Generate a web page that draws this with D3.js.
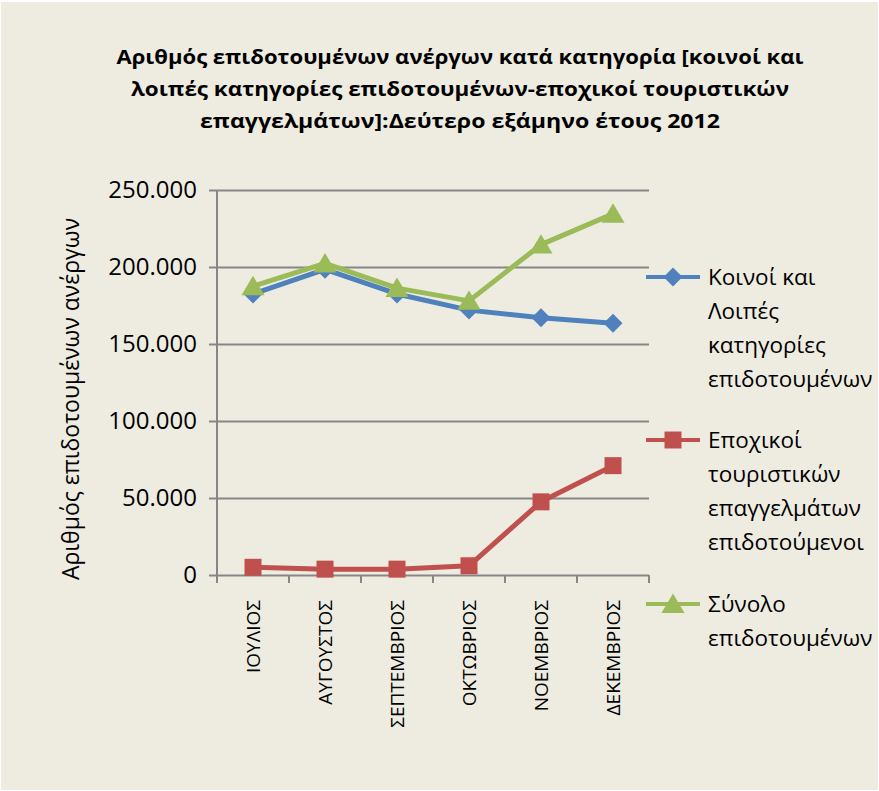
<!DOCTYPE html>
<html>
<head>
<meta charset="utf-8">
<script src="https://cdnjs.cloudflare.com/ajax/libs/d3/7.8.5/d3.min.js"></script>
<style>
  html, body { margin: 0; padding: 0; background: #ffffff; }
  svg { display: block; }
</style>
</head>
<body>
<svg id="chart" width="879" height="791"></svg>
<script>
// ---- data ----
const titleLines = [
  "Αριθμός επιδοτουμένων  ανέργων κατά κατηγορία [κοινοί και",
  "λοιπές κατηγορίες επιδοτουμένων-εποχικοί  τουριστικών",
  "επαγγελμάτων]:Δεύτερο  εξάμηνο έτους  2012"
];
const yAxisTitle = "Αριθμός επιδοτουμένων ανέργων";
const months = ["ΙΟΥΛΙΟΣ", "ΑΥΓΟΥΣΤΟΣ", "ΣΕΠΤΕΜΒΡΙΟΣ", "ΟΚΤΩΒΡΙΟΣ", "ΝΟΕΜΒΡΙΟΣ", "ΔΕΚΕΜΒΡΙΟΣ"];
const koinoi = [182500, 198500, 182500, 172000, 167000, 163500];
const epoxikoi = [5000, 3800, 3800, 6000, 47500, 71000];
const synolo = [187500, 202300, 186300, 178000, 214500, 234500];
const yTicks = [0, 50000, 100000, 150000, 200000, 250000];
const seriesNames = [
  ["Κοινοί και", "Λοιπές", "κατηγορίες", "επιδοτουμένων"],
  ["Εποχικοί", "τουριστικών", "επαγγελμάτων", "επιδοτούμενοι"],
  ["Σύνολο", "επιδοτουμένων"]
];

// ---- setup ----
const svg = d3.select("#chart");
const W = 879, H = 791;
const FONT = "'Open Sans', 'Noto Sans', 'DejaVu Sans', sans-serif";

svg.append("rect").attr("x", 1).attr("y", 2).attr("width", W - 2).attr("height", H - 3)
  .attr("fill", "#EEECE1");

const plot = { left: 217, right: 649, top: 190, bottom: 575 };

const x = d3.scaleBand().domain(months).range([plot.left, plot.right]).padding(0);
const y = d3.scaleLinear().domain([0, 250000]).range([plot.bottom, plot.top]);

const loc = d3.formatLocale({ decimal: ",", thousands: ".", grouping: [3], currency: ["", "€"] });
const fmt = loc.format(",");

// title
const titleWidths = [687, 658, 520];
svg.append("g").selectAll("text").data(titleLines).join("text")
  .attr("x", 460).attr("y", (d, i) => 64 + i * 32)
  .attr("text-anchor", "middle")
  .attr("font-family", FONT).attr("font-weight", "bold").attr("font-size", 20)
  .attr("textLength", (d, i) => titleWidths[i]).attr("lengthAdjust", "spacingAndGlyphs")
  .attr("fill", "#000").text(d => d);

// y axis with gridlines
const yAxis = svg.append("g").attr("transform", `translate(${plot.left},0)`)
  .call(d3.axisLeft(y).tickValues(yTicks).tickFormat(fmt)
    .tickSize(-(plot.right - plot.left)).tickPadding(20));
yAxis.select(".domain").remove();
yAxis.selectAll(".tick line").attr("stroke", "#868686").attr("stroke-width", 2)
  .attr("x1", -8);
yAxis.selectAll(".tick text").attr("font-family", FONT).attr("font-size", 24)
  .attr("fill", "#000").attr("x", -20);

// vertical axis line
svg.append("line").attr("x1", plot.left).attr("x2", plot.left)
  .attr("y1", plot.top).attr("y2", plot.bottom + 8)
  .attr("stroke", "#868686").attr("stroke-width", 2);

// x axis ticks at category boundaries
const bounds = months.map(m => x(m) + x.bandwidth());
svg.append("g").selectAll("line").data(bounds).join("line")
  .attr("x1", d => d).attr("x2", d => d)
  .attr("y1", plot.bottom).attr("y2", plot.bottom + 8)
  .attr("stroke", "#868686").attr("stroke-width", 2);

// x labels rotated
svg.append("g").selectAll("text").data(months).join("text")
  .attr("transform", d => `translate(${x(d) + x.bandwidth() / 2 + 7},${plot.bottom + 25}) rotate(-90)`)
  .attr("text-anchor", "end")
  .attr("font-family", FONT).attr("font-size", 19).attr("fill", "#000")
  .text(d => d);

// y axis title
svg.append("text")
  .attr("transform", `translate(79,${399}) rotate(-90)`)
  .attr("text-anchor", "middle")
  .attr("font-family", FONT).attr("font-size", 23).attr("fill", "#000")
  .text(yAxisTitle);

// markers
function diamond(r) { return `M0,${-r}L${r},0L0,${r}L${-r},0Z`; }
function square(r) { return `M${-r},${-r}H${r}V${r}H${-r}Z`; }
function triangle(r) { return `M0,${-r}L${r * 1.1},${r * 0.85}L${-r * 1.1},${r * 0.85}Z`; }

const series = [
  { values: koinoi, color: "#4F81BD", marker: diamond(9.5) },
  { values: epoxikoi, color: "#C0504D", marker: square(8.5) },
  { values: synolo, color: "#9BBB59", marker: triangle(10.5) }
];

const line = d3.line().x((d, i) => x(months[i]) + x.bandwidth() / 2).y(d => y(d));

series.forEach(s => {
  svg.append("path").datum(s.values).attr("d", line)
    .attr("fill", "none").attr("stroke", s.color).attr("stroke-width", 5)
    .attr("stroke-linejoin", "round");
  svg.append("g").selectAll("path").data(s.values).join("path")
    .attr("transform", (d, i) => `translate(${x(months[i]) + x.bandwidth() / 2},${y(d)})`)
    .attr("d", s.marker).attr("fill", s.color);
});

// legend
const legendY = [277, 440, 604];
const legend = svg.append("g");
series.forEach((s, k) => {
  const g = legend.append("g").attr("transform", `translate(0,${legendY[k]})`);
  g.append("line").attr("x1", 646).attr("x2", 700).attr("y1", 0).attr("y2", 0)
    .attr("stroke", s.color).attr("stroke-width", 4);
  g.append("path").attr("transform", "translate(673,0)").attr("d", s.marker).attr("fill", s.color);
  g.selectAll("text").data(seriesNames[k]).join("text")
    .attr("x", 708).attr("y", (d, i) => 8 + i * 34)
    .attr("font-family", FONT).attr("font-size", 22.5).attr("fill", "#000")
    .text(d => d);
});
</script>
</body>
</html>
